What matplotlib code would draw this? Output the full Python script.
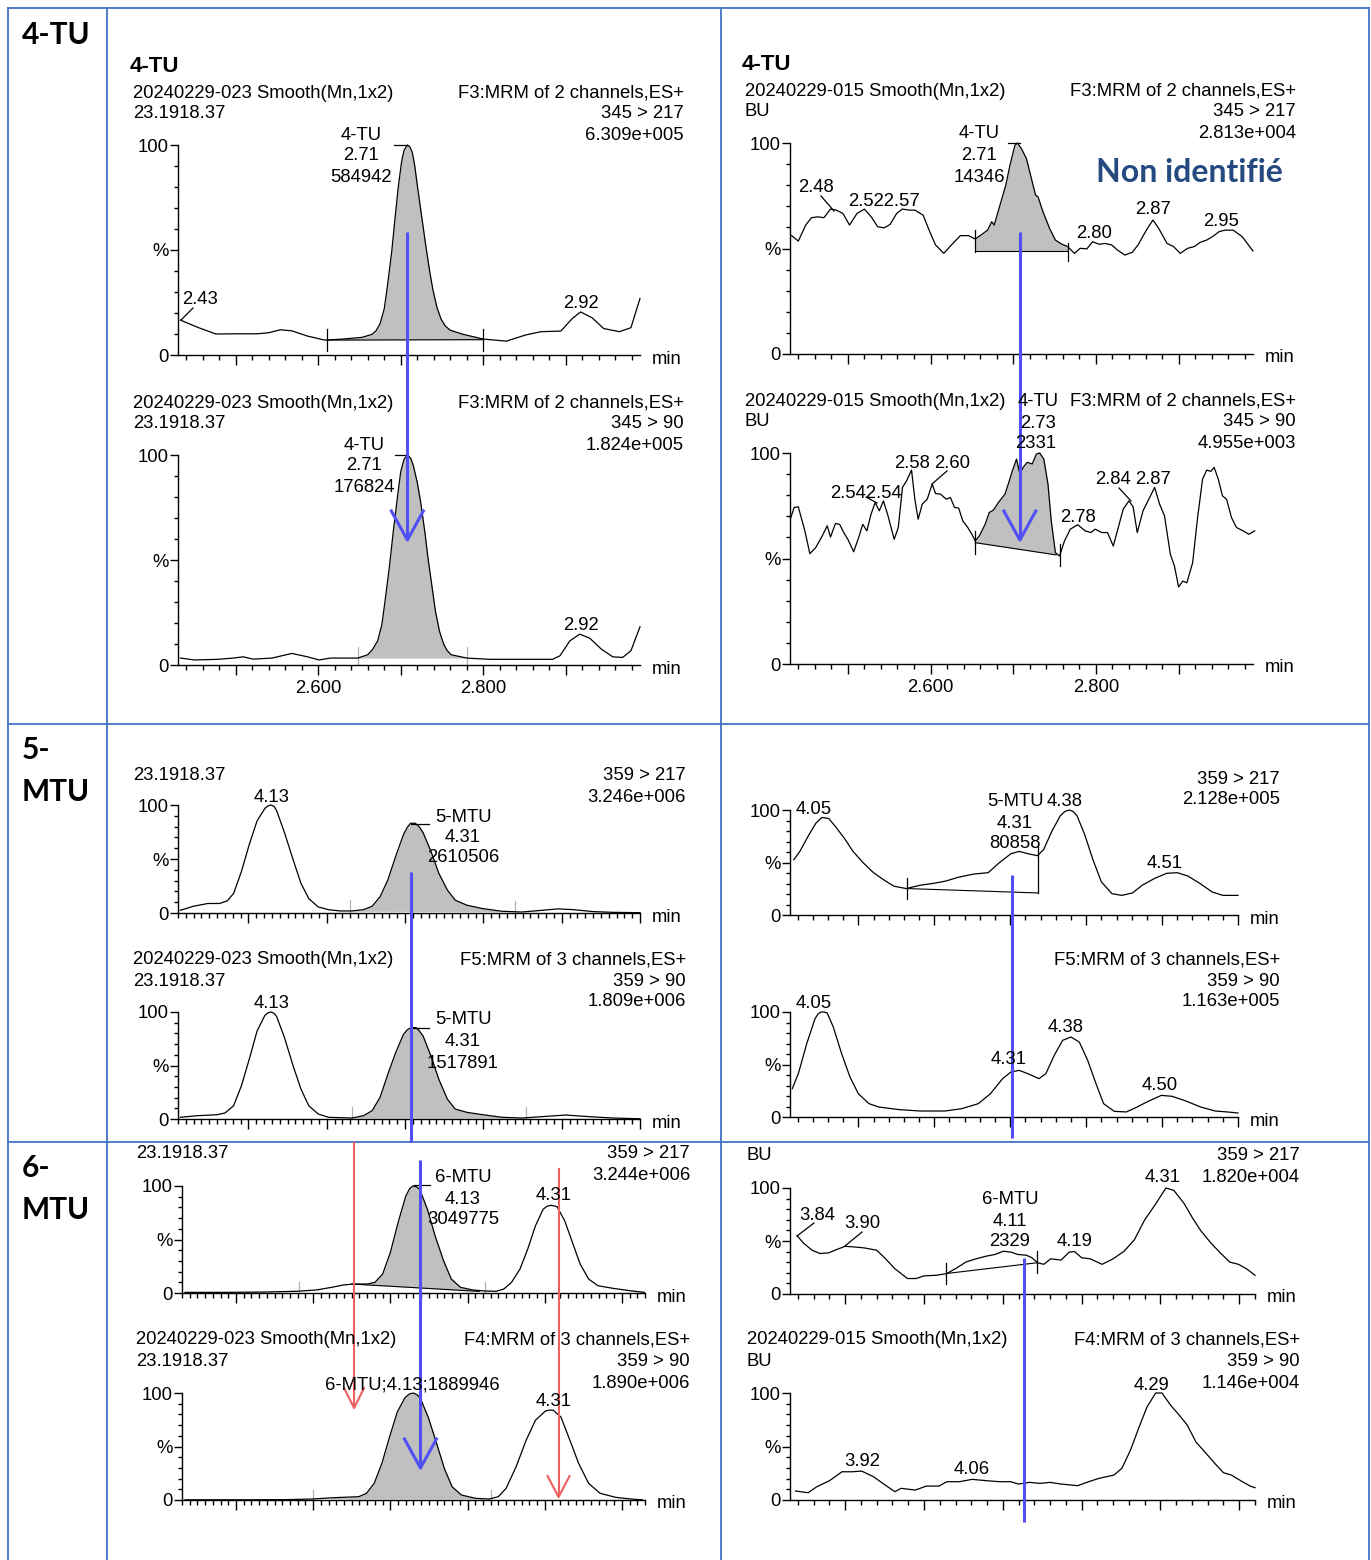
import matplotlib
matplotlib.use("Agg")
import matplotlib.pyplot as plt
import numpy as np
from matplotlib.ticker import MultipleLocator, FuncFormatter

# ---- chromatogram traces (time in min, intensity in %) ----
# 4-TU, standard 20240229-023
tu4_std_217_t = [2.433, 2.455, 2.476, 2.502, 2.526, 2.540, 2.554, 2.568, 2.587, 2.608, 2.630, 2.653,
                 2.665, 2.670, 2.675, 2.680, 2.684, 2.689, 2.693, 2.697, 2.701, 2.704, 2.708, 2.711,
                 2.714, 2.717, 2.720, 2.725, 2.730, 2.735, 2.739, 2.744, 2.749, 2.754, 2.760,
                 2.776, 2.800, 2.828, 2.851, 2.870, 2.894, 2.908, 2.918, 2.932, 2.946, 2.965, 2.979, 2.990]
tu4_std_217_y = [16.6, 13.0, 10.0, 10.1, 10.1, 10.6, 12.0, 11.5, 9.0, 7.1, 7.6, 8.4,
                 9.8, 11.5, 15.0, 22.0, 33.2, 49.0, 64.8, 80.0, 92.0, 97.5, 100, 99.2,
                 96.5, 90.0, 81.0, 67.0, 53.0, 40.0, 31.0, 22.5, 17.0, 13.8, 11.8,
                 9.8, 7.6, 6.6, 9.5, 11.1, 11.4, 17.4, 20.5, 17.7, 12.6, 11.1, 13.0, 26.9]
tu4_std_90_t = [2.433, 2.450, 2.478, 2.497, 2.509, 2.521, 2.544, 2.568, 2.587, 2.601, 2.615, 2.648,
                2.660, 2.666, 2.672, 2.677, 2.681, 2.686, 2.691, 2.696, 2.700, 2.704, 2.708, 2.712,
                2.715, 2.720, 2.724, 2.729, 2.733, 2.738, 2.742, 2.747, 2.752, 2.756, 2.761,
                2.780, 2.808, 2.846, 2.884, 2.893, 2.905, 2.917, 2.929, 2.943, 2.957, 2.969, 2.979, 2.990]
tu4_std_90_y = [3.3, 2.4, 2.7, 3.3, 3.9, 2.8, 3.3, 5.5, 3.9, 2.4, 3.3, 3.3,
                4.9, 7.5, 11.5, 19.0, 30.5, 46.0, 63.7, 80.0, 92.1, 98.0, 100, 98.5,
                95.3, 87.0, 77.9, 64.0, 51.0, 37.0, 25.7, 16.0, 10.0, 7.0, 4.9,
                3.3, 2.7, 2.7, 2.7, 4.4, 11.5, 14.7, 12.8, 7.6, 3.9, 3.6, 6.8, 18.2]
# 4-TU, sample 20240229-015 (BU)
tu4_bu_217_t = [2.432, 2.440, 2.449, 2.456, 2.464, 2.471, 2.479, 2.486, 2.494, 2.502, 2.511, 2.520,
                2.529, 2.536, 2.544, 2.551, 2.559, 2.566, 2.574, 2.581, 2.591, 2.599, 2.606, 2.616,
                2.626, 2.636, 2.646, 2.654, 2.661, 2.669, 2.674, 2.677, 2.684, 2.691, 2.696, 2.702,
                2.705, 2.710, 2.716, 2.722, 2.727, 2.730, 2.736, 2.744, 2.751, 2.759, 2.766, 2.774,
                2.781, 2.789, 2.796, 2.804, 2.811, 2.819, 2.826, 2.835, 2.844, 2.851, 2.861, 2.869,
                2.876, 2.886, 2.894, 2.902, 2.911, 2.919, 2.926, 2.934, 2.941, 2.949, 2.956, 2.966,
                2.977, 2.990]
tu4_bu_217_y = [56.1, 53.5, 61.1, 64.6, 65.0, 64.6, 68.7, 68.2, 66.6, 61.1, 66.6, 68.7,
                64.6, 60.3, 59.8, 61.4, 66.6, 68.7, 68.2, 68.2, 65.8, 58.0, 51.7, 47.7,
                52.0, 56.1, 56.1, 54.5, 56.4, 58.7, 62.7, 61.1, 70.6, 80.0, 89.4, 98.9,
                100, 97.3, 92.6, 83.1, 75.3, 74.5, 67.4, 59.5, 54.0, 52.0, 50.9, 47.7,
                50.1, 49.8, 53.2, 52.0, 52.4, 51.7, 49.3, 46.9, 48.2, 51.7, 58.7, 63.5,
                59.5, 52.4, 50.9, 47.7, 50.1, 50.9, 52.9, 54.0, 55.6, 58.0, 58.7, 58.7,
                55.6, 48.8]
tu4_bu_90_t = [2.431, 2.435, 2.440, 2.448, 2.454, 2.461, 2.469, 2.475, 2.479, 2.485, 2.490, 2.495,
               2.500, 2.507, 2.513, 2.518, 2.523, 2.528, 2.533, 2.538, 2.543, 2.548, 2.556, 2.561,
               2.566, 2.571, 2.577, 2.581, 2.585, 2.590, 2.596, 2.602, 2.606, 2.612, 2.619, 2.624,
               2.629, 2.634, 2.639, 2.645, 2.650, 2.654, 2.659, 2.666, 2.671, 2.676, 2.682, 2.690,
               2.694, 2.699, 2.704, 2.708, 2.712, 2.717, 2.723, 2.728, 2.732, 2.737, 2.742, 2.746,
               2.751, 2.756, 2.762, 2.769, 2.778, 2.787, 2.794, 2.799, 2.807, 2.814, 2.821, 2.827,
               2.833, 2.840, 2.845, 2.850, 2.857, 2.865, 2.871, 2.877, 2.883, 2.890, 2.895, 2.900,
               2.905, 2.910, 2.917, 2.923, 2.929, 2.934, 2.939, 2.943, 2.948, 2.953, 2.958, 2.964,
               2.970, 2.978, 2.985, 2.992]
tu4_bu_90_y = [69.4, 74.2, 74.5, 63.1, 52.3, 55.1, 60.7, 65.5, 60.2, 66.6, 66.2, 62.3,
               59.1, 53.2, 59.9, 66.2, 63.1, 71.0, 76.5, 72.6, 77.3, 71.0, 59.1, 64.7,
               83.7, 86.8, 91.9, 78.1, 68.6, 75.8, 78.1, 85.3, 80.8, 80.5, 78.1, 78.9,
               74.2, 73.9, 67.8, 64.7, 61.5, 58.3, 60.7, 66.2, 71.8, 72.9, 76.5, 80.5,
               85.3, 91.6, 97.1, 90.0, 93.2, 95.6, 94.8, 99.5, 100, 97.1, 85.3, 67.8,
               52.8, 51.2, 58.3, 63.9, 66.0, 63.1, 62.3, 63.9, 62.3, 62.3, 55.9, 64.6,
               73.4, 77.3, 74.5, 62.3, 72.6, 78.9, 83.7, 75.8, 70.2, 52.0, 46.4, 36.5,
               39.3, 38.5, 48.0, 69.4, 87.6, 91.9, 91.3, 93.2, 87.6, 79.7, 78.1, 69.4,
               64.7, 63.1, 61.5, 63.1]

# 5-MTU
mtu5_std_217_t = [4.013, 4.030, 4.048, 4.063, 4.073, 4.081, 4.091, 4.101, 4.111, 4.121, 4.125, 4.129,
                  4.133, 4.136, 4.146, 4.157, 4.167, 4.177, 4.189, 4.202, 4.217, 4.232, 4.247, 4.258,
                  4.268, 4.278, 4.288, 4.298, 4.303, 4.307, 4.313, 4.318, 4.323, 4.333, 4.343, 4.354,
                  4.364, 4.379, 4.399, 4.424, 4.449, 4.475, 4.495, 4.515, 4.540, 4.566, 4.600]
mtu5_std_217_y = [2.5, 6.3, 8.8, 8.8, 11.3, 18.1, 38.4, 63.4, 85.3, 96.9, 99.2, 100,
                  98.4, 94.7, 74.4, 49.4, 27.5, 13.4, 5.6, 3.1, 1.9, 1.9, 3.1, 6.3,
                  15.0, 30.6, 52.5, 72.8, 79.5, 83.1, 83.1, 80.0, 74.4, 57.2, 36.9, 21.3,
                  11.9, 7.2, 4.1, 1.6, 0.9, 2.5, 3.8, 3.1, 1.3, 0.6, 0.3]
mtu5_std_90_t = [4.013, 4.035, 4.060, 4.070, 4.081, 4.091, 4.101, 4.111, 4.121, 4.125, 4.129, 4.133,
                 4.136, 4.146, 4.157, 4.167, 4.177, 4.189, 4.202, 4.232, 4.247, 4.258, 4.268, 4.278,
                 4.288, 4.298, 4.303, 4.308, 4.314, 4.318, 4.323, 4.333, 4.343, 4.354, 4.364, 4.379,
                 4.399, 4.424, 4.449, 4.475, 4.505, 4.535, 4.566, 4.600]
mtu5_std_90_y = [1.6, 3.1, 4.0, 5.6, 12.4, 31.1, 55.9, 82.3, 96.9, 99.3, 100, 98.6,
                 95.7, 76.1, 49.7, 28.0, 12.4, 4.7, 1.6, 0.9, 3.1, 7.8, 20.2, 41.9,
                 62.1, 79.2, 83.5, 85.4, 85.4, 82.5, 77.6, 59.0, 37.3, 18.6, 9.3, 6.2,
                 4.0, 1.6, 0.9, 2.2, 3.7, 2.2, 0.9, 0.2]
mtu5_bu_217_t = [4.015, 4.023, 4.034, 4.044, 4.052, 4.061, 4.071, 4.082, 4.093, 4.106, 4.120, 4.134,
                 4.147, 4.163, 4.182, 4.198, 4.215, 4.231, 4.252, 4.271, 4.285, 4.301, 4.312, 4.323,
                 4.336, 4.344, 4.355, 4.366, 4.372, 4.378, 4.383, 4.388, 4.398, 4.409, 4.420, 4.434,
                 4.447, 4.461, 4.474, 4.490, 4.506, 4.520, 4.534, 4.550, 4.566, 4.580, 4.600]
mtu5_bu_217_y = [52.6, 60.6, 75.2, 87.4, 92.9, 91.9, 83.2, 72.6, 60.6, 50.0, 40.3, 33.2,
                 27.4, 25.2, 28.4, 30.0, 32.3, 35.8, 39.0, 40.3, 49.4, 58.4, 60.6, 58.4,
                 56.5, 62.3, 80.0, 94.5, 98.6, 100, 98.5, 94.5, 76.8, 52.6, 31.6, 20.3,
                 18.7, 21.0, 28.4, 34.8, 39.7, 40.3, 37.1, 30.0, 21.9, 18.7, 18.7]
mtu5_bu_90_t = [4.013, 4.021, 4.032, 4.043, 4.047, 4.051, 4.055, 4.059, 4.067, 4.078, 4.089, 4.100,
                4.114, 4.127, 4.154, 4.182, 4.214, 4.236, 4.258, 4.274, 4.290, 4.301, 4.312, 4.323,
                4.338, 4.347, 4.358, 4.369, 4.380, 4.391, 4.402, 4.413, 4.423, 4.437, 4.453, 4.467,
                4.480, 4.499, 4.513, 4.529, 4.551, 4.570, 4.586, 4.600]
mtu5_bu_90_y = [27.0, 41.3, 69.8, 93.7, 98.2, 100, 100, 99.0, 85.7, 60.3, 38.1, 22.2,
                12.7, 9.5, 7.0, 5.7, 5.7, 7.9, 12.7, 22.2, 36.5, 42.9, 44.4, 41.3,
                36.5, 41.3, 58.7, 73.0, 76.2, 71.4, 54.0, 31.7, 12.7, 5.4, 4.8, 9.5,
                14.3, 20.6, 19.7, 15.9, 9.5, 5.7, 4.8, 3.8]

# 6-MTU
mtu6_std_217_t = [3.834, 3.887, 3.938, 3.978, 4.004, 4.024, 4.039, 4.052, 4.070, 4.080, 4.090, 4.100,
                  4.110, 4.120, 4.125, 4.129, 4.134, 4.138, 4.148, 4.158, 4.169, 4.179, 4.191, 4.207,
                  4.222, 4.237, 4.247, 4.257, 4.268, 4.278, 4.288, 4.298, 4.303, 4.308, 4.316, 4.326,
                  4.336, 4.346, 4.357, 4.369, 4.389, 4.410, 4.429]
mtu6_std_217_y = [0.6, 0.6, 0.9, 1.6, 2.8, 5.3, 7.5, 8.4, 8.4, 9.9, 17.7, 37.9,
                  65.8, 90.7, 97.5, 100, 99.3, 96.9, 78.3, 53.4, 30.1, 13.0, 5.3, 2.8,
                  1.9, 1.6, 3.7, 9.9, 22.4, 41.0, 62.7, 78.3, 81.0, 82.0, 80.7, 67.4,
                  47.2, 27.0, 13.0, 6.8, 4.3, 2.2, 0.6]
mtu6_std_90_t = [3.834, 3.912, 3.963, 3.998, 4.028, 4.059, 4.069, 4.079, 4.089, 4.099, 4.109, 4.119,
                 4.125, 4.130, 4.135, 4.139, 4.149, 4.160, 4.170, 4.180, 4.192, 4.210, 4.228, 4.240,
                 4.250, 4.263, 4.276, 4.288, 4.301, 4.306, 4.311, 4.321, 4.331, 4.344, 4.357, 4.372,
                 4.392, 4.412, 4.427]
mtu6_std_90_y = [0.2, 0.2, 0.3, 0.9, 2.2, 3.1, 6.2, 15.5, 34.2, 59.0, 82.3, 95.7,
                 99.2, 100, 98.2, 94.7, 77.6, 52.8, 29.5, 12.4, 4.7, 1.6, 0.9, 3.1,
                 10.9, 31.1, 55.9, 74.5, 83.2, 84.0, 83.9, 77.6, 59.0, 34.2, 15.5, 6.2,
                 2.5, 0.9, 0.2]
mtu6_bu_217_t = [3.839, 3.847, 3.858, 3.868, 3.879, 3.889, 3.900, 3.911, 3.924, 3.940, 3.950, 3.963,
                 3.979, 3.990, 4.000, 4.016, 4.029, 4.042, 4.053, 4.066, 4.079, 4.090, 4.101, 4.111,
                 4.119, 4.130, 4.137, 4.144, 4.152, 4.161, 4.174, 4.184, 4.191, 4.200, 4.211, 4.226,
                 4.240, 4.254, 4.267, 4.280, 4.293, 4.307, 4.317, 4.330, 4.341, 4.351, 4.364, 4.378,
                 4.388, 4.399, 4.409, 4.420]
mtu6_bu_217_y = [55.0, 48.1, 41.3, 38.2, 38.8, 41.9, 45.0, 44.4, 43.5, 41.3, 34.2, 23.9,
                 14.6, 14.6, 17.1, 17.7, 19.3, 24.8, 30.1, 33.2, 35.7, 37.3, 40.4, 39.4,
                 37.3, 36.6, 34.2, 29.5, 28.0, 33.2, 32.0, 39.4, 40.1, 34.2, 33.2, 28.0,
                 33.2, 40.4, 51.2, 69.9, 83.9, 100, 97.8, 85.4, 71.4, 59.9, 48.1, 37.3,
                 30.1, 28.0, 23.9, 17.7]
mtu6_bu_90_t = [3.837, 3.853, 3.864, 3.880, 3.896, 3.909, 3.921, 3.936, 3.949, 3.963, 3.971, 3.989,
                4.003, 4.019, 4.029, 4.045, 4.061, 4.080, 4.096, 4.110, 4.120, 4.134, 4.147, 4.160,
                4.174, 4.195, 4.209, 4.222, 4.241, 4.251, 4.262, 4.273, 4.283, 4.294, 4.302, 4.313,
                4.324, 4.334, 4.345, 4.358, 4.369, 4.380, 4.390, 4.404, 4.414, 4.420]
mtu6_bu_90_y = [8.4, 6.8, 12.4, 18.0, 26.4, 26.4, 27.0, 21.7, 14.9, 7.8, 10.9, 9.3,
                13.0, 13.0, 17.1, 17.1, 19.3, 18.0, 17.1, 17.1, 14.9, 16.5, 15.5, 16.5,
                14.9, 13.4, 17.1, 20.2, 23.3, 29.5, 46.6, 68.3, 87.0, 100, 100, 88.5,
                79.2, 70.0, 54.3, 43.5, 34.2, 25.5, 23.3, 17.1, 13.0, 11.5]

row_labels = [(33, "4-TU"), (748, "5-"), (790, "MTU"), (1166, "6-"), (1208, "MTU")]

W, H = 1371, 1560
FONT = "Liberation Sans"
FS = 13.3
DY = 2  # text centre offset (matplotlib centres on the full box incl. descent)
BLUE = "#5050f5"
RED = "#f25f5f"
GRID = "#4472c4"
FILL = "#c0c0c0"
LGRAY = "#b0b0b0"

plt.rcParams["font.family"] = [FONT, "DejaVu Sans"]
plt.rcParams["font.size"] = FS

fig = plt.figure(figsize=(W / 100, H / 100), dpi=100)

R1 = (2.43, 2.99)
R2 = (4.01, 4.60)
R3 = (3.83, 4.43)
R3b = (3.83, 4.42)

# integration: start, end, baseline at start/end, gray fill, draw baseline, markers (t, lo, hi, colour)
panels = [
    dict(box=(178, 640, 145, 355), tr=R1, t=tu4_std_217_t, y=tu4_std_217_y, minor=0.02, lab=False,
         integ=(2.611, 2.800, 7.1, 7.3, True, True,
                [(2.611, 1.9, 12.6, "black"), (2.800, 1.9, 12.6, "black")])),
    dict(box=(178, 640, 455, 665), tr=R1, t=tu4_std_90_t, y=tu4_std_90_y, minor=0.02, lab=True,
         integ=(2.648, 2.780, 3.3, 3.3, True, False,
                [(2.648, 0, 8.4, LGRAY), (2.780, 0, 8.4, LGRAY)])),
    dict(box=(790, 1253, 143, 354), tr=R1, t=tu4_bu_217_t, y=tu4_bu_217_y, minor=0.02, lab=False,
         integ=(2.654, 2.766, 48.8, 48.8, True, True,
                [(2.654, 48.5, 58.7, "black"), (2.766, 44.1, 52.4, "black")])),
    dict(box=(790, 1253, 453, 664), tr=R1, t=tu4_bu_90_t, y=tu4_bu_90_y, minor=0.02, lab=True,
         integ=(2.654, 2.752, 57.5, 51.7, True, True,
                [(2.654, 52.0, 63.0, "black"), (2.756, 46.4, 56.7, "black")])),
    dict(box=(178, 640, 805, 913), tr=R2, t=mtu5_std_217_t, y=mtu5_std_217_y, minor=0.01, lab=False,
         integ=(4.230, 4.440, 1.6, 1.2, True, False,
                [(4.230, 0, 12, LGRAY), (4.440, 0, 11, LGRAY)])),
    dict(box=(178, 640, 1012, 1119), tr=R2, t=mtu5_std_90_t, y=mtu5_std_90_y, minor=0.01, lab=False,
         integ=(4.232, 4.454, 0.9, 0.9, True, False,
                [(4.232, 0, 11, LGRAY), (4.454, 0, 11, LGRAY)])),
    dict(box=(790, 1238, 810, 915), tr=R2, t=mtu5_bu_217_t, y=mtu5_bu_217_y, minor=0.02, lab=False,
         integ=(4.164, 4.336, 25.2, 21.0, False, True,
                [(4.164, 15.5, 35.0, "black"), (4.336, 21.0, 65.0, "black")])),
    dict(box=(790, 1238, 1012, 1117), tr=R2, t=mtu5_bu_90_t, y=mtu5_bu_90_y, minor=0.02, lab=False,
         integ=None),
    dict(box=(182, 645, 1186, 1293), tr=R3, t=mtu6_std_217_t, y=mtu6_std_217_y, minor=0.01, lab=False,
         integ=(4.050, 4.215, 8.4, 1.5, True, True,
                [(3.982, 0, 10, LGRAY), (4.223, 0, 10, LGRAY)])),
    dict(box=(182, 645, 1393, 1500), tr=R3, t=mtu6_std_90_t, y=mtu6_std_90_y, minor=0.01, lab=False,
         integ=(4.023, 4.230, 1.0, 1.0, True, False,
                [(4.000, 0, 9, LGRAY), (4.230, 0, 9, LGRAY)])),
    dict(box=(790, 1255, 1188, 1294), tr=R3b, t=mtu6_bu_217_t, y=mtu6_bu_217_y, minor=0.02, lab=False,
         integ=(4.028, 4.144, 19.3, 29.5, False, True,
                [(4.028, 9.3, 28.9, "black"), (4.144, 19.6, 40.4, "black")])),
    dict(box=(790, 1255, 1393, 1500), tr=R3b, t=mtu6_bu_90_t, y=mtu6_bu_90_y, minor=0.02, lab=False,
         integ=None),
]


def tick_fmt(lab):
    def f(v, pos):
        k = round(v * 10)
        if lab and abs(v * 10 - k) < 1e-6 and k % 2 == 0:
            return f"{v:.3f}"
        return ""
    return FuncFormatter(f)


def draw_panel(p):
    l, r, top, bot = p["box"]
    ax = fig.add_axes([l / W, 1 - bot / H, (r - l) / W, (bot - top) / H])
    ax.patch.set_alpha(0)
    ax.set_xlim(*p["tr"])
    ax.set_ylim(0, 100)
    for s in ("top", "right"):
        ax.spines[s].set_visible(False)
    for s in ("left", "bottom"):
        ax.spines[s].set_linewidth(1.0)
    ax.xaxis.set_major_locator(MultipleLocator(0.1))
    ax.xaxis.set_minor_locator(MultipleLocator(p["minor"]))
    ax.xaxis.set_major_formatter(tick_fmt(p["lab"]))
    ax.set_yticks([0, 50, 100])
    ax.set_yticklabels(["0", "%", "100"])
    ax.yaxis.set_minor_locator(MultipleLocator(10))
    ax.tick_params(axis="x", which="major", length=7, width=1, pad=4, labelsize=FS)
    ax.tick_params(axis="x", which="minor", length=3.5, width=1)
    ax.tick_params(axis="y", which="major", length=5.5, width=1, pad=1, labelsize=FS)
    ax.tick_params(axis="y", which="minor", length=3, width=1)

    t = np.asarray(p["t"], float)
    y = np.asarray(p["y"], float)
    if p["integ"] is not None:
        ts, te, bs, be, fill, base, marks = p["integ"]
        if fill:
            m = (t > ts) & (t < te)
            tt = np.concatenate([[ts], t[m], [te]])
            yy = np.concatenate([[np.interp(ts, t, y)], y[m], [np.interp(te, t, y)]])
            bb = np.interp(tt, [ts, te], [bs, be])
            ax.fill_between(tt, bb, yy, color=FILL, lw=0, zorder=1)
        if base:
            ax.plot([ts, te], [bs, be], color="black", lw=0.8, zorder=2)
        for tm, lo, hi, mc in marks:
            ax.plot([tm, tm], [lo, hi], color=mc, lw=0.9, zorder=2)
    ax.plot(t, y, color="black", lw=0.9, zorder=3, clip_on=False)
    return ax


for p in panels:
    draw_panel(p)

# ---- overlay in pixel coordinates ----
over = fig.add_axes([0, 0, 1, 1], zorder=10)
over.set_xlim(0, W)
over.set_ylim(H, 0)
over.axis("off")

# table grid
for x in (8, 107, 721, 1369):
    over.plot([x, x], [8, H], color=GRID, lw=1.3)
for yy in (8, 724, 1142):
    over.plot([8, 1369], [yy, yy], color=GRID, lw=1.3)

for yy, s in row_labels:
    over.text(22, yy + DY, s, fontsize=21.5, fontweight="bold", family=["Lato", "DejaVu Sans"],
              ha="left", va="center")

notes = [
    (130, 64, "4-TU", "left", True), (742, 62, "4-TU", "left", True),
    # 4-TU standard
    (133, 91, "20240229-023 Smooth(Mn,1x2)", "left", False), (133, 112, "23.1918.37", "left", False),
    (684, 91, "F3:MRM of 2 channels,ES+", "right", False), (684, 112, "345 > 217", "right", False),
    (684, 133, "6.309e+005", "right", False),
    (361, 133, "4-TU", "center", False), (361, 154, "2.71", "center", False), (361, 176, "584942", "center", False),
    (200, 298, "2.43", "center", False), (581, 302, "2.92", "center", False),
    (133, 401, "20240229-023 Smooth(Mn,1x2)", "left", False), (133, 422, "23.1918.37", "left", False),
    (684, 401, "F3:MRM of 2 channels,ES+", "right", False), (684, 422, "345 > 90", "right", False),
    (684, 443, "1.824e+005", "right", False),
    (364, 443, "4-TU", "center", False), (364, 464, "2.71", "center", False), (364, 486, "176824", "center", False),
    (581, 624, "2.92", "center", False),
    # 4-TU BU
    (745, 89, "20240229-015 Smooth(Mn,1x2)", "left", False), (745, 110, "BU", "left", False),
    (1296, 89, "F3:MRM of 2 channels,ES+", "right", False), (1296, 110, "345 > 217", "right", False),
    (1296, 131, "2.813e+004", "right", False),
    (979, 132, "4-TU", "center", False), (979, 153, "2.71", "center", False), (979, 175, "14346", "center", False),
    (816, 185, "2.48", "center", False), (884, 199, "2.522.57", "center", False),
    (1094, 231, "2.80", "center", False), (1153, 208, "2.87", "center", False), (1221, 219, "2.95", "center", False),
    (745, 399, "20240229-015 Smooth(Mn,1x2)", "left", False), (745, 420, "BU", "left", False),
    (1296, 399, "F3:MRM of 2 channels,ES+", "right", False), (1296, 420, "345 > 90", "right", False),
    (1296, 441, "4.955e+003", "right", False),
    (1038, 399, "4-TU", "center", False), (1038, 421, "2.73", "center", False), (1036, 442, "2331", "center", False),
    (912, 461, "2.58", "center", False), (952, 461, "2.60", "center", False),
    (866, 492, "2.542.54", "center", False), (1113, 478, "2.84", "center", False),
    (1153, 478, "2.87", "center", False), (1078, 516, "2.78", "center", False),
    # 5-MTU standard
    (133, 773, "23.1918.37", "left", False), (686, 773, "359 > 217", "right", False),
    (686, 795, "3.246e+006", "right", False), (272, 795, "4.13", "center", False),
    (463, 815, "5-MTU", "center", False), (463, 835, "4.31", "center", False), (463, 856, "2610506", "center", False),
    (133, 958, "20240229-023 Smooth(Mn,1x2)", "left", False), (133, 979, "23.1918.37", "left", False),
    (686, 958, "F5:MRM of 3 channels,ES+", "right", False), (686, 979, "359 > 90", "right", False),
    (686, 1000, "1.809e+006", "right", False), (272, 1002, "4.13", "center", False),
    (463, 1018, "5-MTU", "center", False), (463, 1039, "4.31", "center", False), (463, 1061, "1517891", "center", False),
    # 5-MTU BU
    (1280, 777, "359 > 217", "right", False), (1280, 798, "2.128e+005", "right", False),
    (814, 808, "4.05", "center", False), (1015, 799, "5-MTU", "center", False), (1065, 799, "4.38", "center", False),
    (1015, 821, "4.31", "center", False), (1015, 842, "80858", "center", False), (1165, 862, "4.51", "center", False),
    (1280, 958, "F5:MRM of 3 channels,ES+", "right", False), (1280, 979, "359 > 90", "right", False),
    (1280, 1000, "1.163e+005", "right", False),
    (814, 1001, "4.05", "center", False), (1066, 1025, "4.38", "center", False),
    (1009, 1058, "4.31", "center", False), (1160, 1084, "4.50", "center", False),
    # 6-MTU standard
    (136, 1152, "23.1918.37", "left", False), (690, 1152, "359 > 217", "right", False),
    (690, 1174, "3.244e+006", "right", False),
    (463, 1175, "6-MTU", "center", False), (463, 1197, "4.13", "center", False), (463, 1218, "3049775", "center", False),
    (554, 1194, "4.31", "center", False),
    (136, 1338, "20240229-023 Smooth(Mn,1x2)", "left", False), (136, 1360, "23.1918.37", "left", False),
    (690, 1338, "F4:MRM of 3 channels,ES+", "right", False), (690, 1360, "359 > 90", "right", False),
    (690, 1382, "1.890e+006", "right", False), (412, 1383, "6-MTU;4.13;1889946", "center", False),
    (554, 1399, "4.31", "center", False),
    # 6-MTU BU
    (747, 1154, "BU", "left", False), (1300, 1154, "359 > 217", "right", False),
    (1300, 1175, "1.820e+004", "right", False),
    (817, 1213, "3.84", "center", False), (862, 1222, "3.90", "center", False),
    (1010, 1197, "6-MTU", "center", False), (1010, 1219, "4.11", "center", False), (1010, 1240, "2329", "center", False),
    (1075, 1240, "4.19", "center", False), (1163, 1176, "4.31", "center", False),
    (747, 1338, "20240229-015 Smooth(Mn,1x2)", "left", False), (747, 1360, "BU", "left", False),
    (1300, 1338, "F4:MRM of 3 channels,ES+", "right", False), (1300, 1360, "359 > 90", "right", False),
    (1300, 1382, "1.146e+004", "right", False),
    (1151, 1383, "4.29", "center", False), (862, 1460, "3.92", "center", False), (972, 1468, "4.06", "center", False),
]
for x, yy, s, ha, bold in notes:
    if bold:
        over.text(x, yy + DY, s, ha=ha, va="center", fontsize=16, fontweight="bold")
    else:
        over.text(x, yy + DY, s, ha=ha, va="center", fontsize=FS)

# "min" labels at the end of each x axis
for p in panels:
    l, r, top, bot = p["box"]
    over.text(r + 12, bot + 2 + DY, "min", ha="left", va="center", fontsize=FS)

over.text(1189, 170 + DY, "Non identifié", ha="center", va="center", fontsize=23, fontweight="bold",
          color="#244a7f", family=["Lato", "DejaVu Sans"])

leaders = [
    ((394, 145), (407, 145)), ((395, 455), (408, 455)), ((1008, 143), (1020, 143)),
    ((411, 824), (429, 824)), ((411, 1028), (429, 1028)), ((414, 1185), (430, 1185)),
    ((181, 320), (193, 308)), ((821, 196), (834, 211)), ((866, 497), (877, 503)),
    ((947, 471), (932, 484)), ((1119, 488), (1131, 501)),
    ((814, 1223), (797, 1236)), ((862, 1232), (845, 1246)),
]
for (x1, y1), (x2, y2) in leaders:
    over.plot([x1, x2], [y1, y2], color="black", lw=0.9)


def px(p, t):
    l, r, top, bot = p["box"]
    t0, t1 = p["tr"]
    return l + (t - t0) / (t1 - t0) * (r - l)


def arrow(x, y0, y1, color, lw, head=None):
    over.plot([x, x], [y0, y1], color=color, lw=lw, solid_capstyle="butt")
    if head:
        hw, hh = head
        over.plot([x - hw, x, x + hw], [y1 - hh, y1, y1 - hh], color=color, lw=lw)


arrow(px(panels[0], 2.708), 232, 540, BLUE, 2.2, (16, 29))
arrow(px(panels[2], 2.708), 232, 540, BLUE, 2.2, (16, 29))
arrow(px(panels[4], 4.308), 872, 1142, BLUE, 2.2)
arrow(px(panels[6], 4.303), 875, 1138, BLUE, 2.2)
arrow(px(panels[8], 4.139), 1160, 1468, BLUE, 2.2, (16, 29))
arrow(px(panels[10], 4.127), 1258, 1522, BLUE, 2.2)
arrow(px(panels[8], 4.053), 1142, 1408, RED, 1.5, (10, 20))
arrow(px(panels[8], 4.318), 1168, 1497, RED, 1.5, (11, 21))

fig.savefig("out.png", dpi=100)
